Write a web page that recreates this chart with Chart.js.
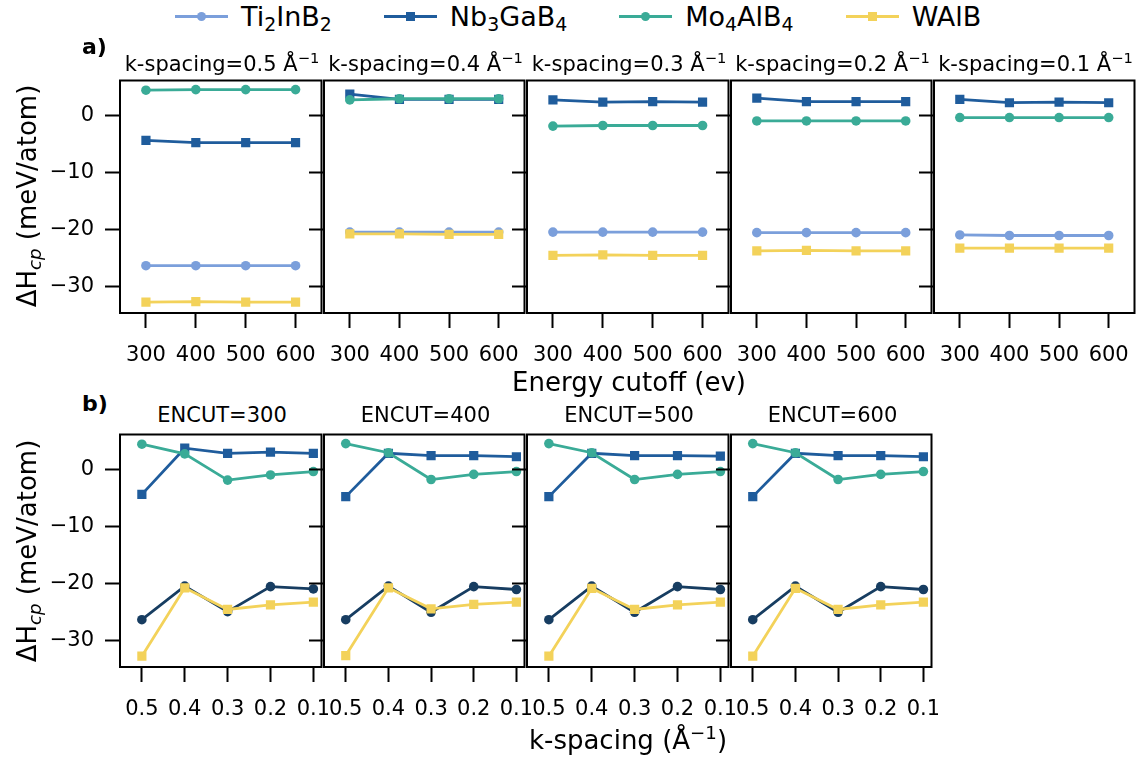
<!DOCTYPE html>
<html>
<head>
<meta charset="utf-8">
<script src="https://cdn.jsdelivr.net/npm/chart.js@4"></script>
<style>
  body { margin: 0; background: #fff; font-family: 'DejaVu Sans', sans-serif; color: #000; }
  #fig { position: relative; width: 1142px; height: 758px; overflow: hidden; }
  canvas { position: absolute; }
  .txt { position: absolute; white-space: nowrap; line-height: 1; }
  .ttl { font-size: 21px; transform: translateX(-50%); }
  .lab { font-size: 26px; transform: translateX(-50%); }
  .ylab { font-size: 26px; transform: translate(-50%, -50%) rotate(-90deg); }
  .pl { font-size: 22px; font-weight: bold; }
  sup { font-size: 0.7em; vertical-align: 0.55em; line-height: 0; }
  sub { font-size: 0.7em; vertical-align: -0.25em; line-height: 0; }
  #legend { position: absolute; top: 0; left: 175px; height: 32px; display: flex; align-items: center; font-size: 27px; }
  .item { display: flex; align-items: center; margin-right: 52px; flex-shrink: 0; }
  .sw { position: relative; width: 53px; height: 3px; margin-right: 13px; flex-shrink: 0; }
  .mk { position: absolute; left: 22px; top: -3px; width: 9px; height: 9px; }
</style>
</head>
<body>
<div id="fig">
  <div id="legend"></div>
</div>
<script>
// x values
const encut = [300, 400, 500, 600];
const kspacing = [0.5, 0.4, 0.3, 0.2, 0.1];
const yTicks = [-30, -20, -10, 0];

// row a: one row per k-spacing panel (0.5 .. 0.1), values at ENCUT 300..600
const ti_a = [
  [-26.4, -26.4, -26.4, -26.4],
  [-20.5, -20.5, -20.5, -20.5],
  [-20.5, -20.5, -20.5, -20.5],
  [-20.6, -20.6, -20.6, -20.6],
  [-21.0, -21.1, -21.1, -21.1]
];
const nb_a = [
  [-4.4, -4.8, -4.8, -4.8],
  [3.7, 2.8, 2.8, 2.8],
  [2.7, 2.3, 2.4, 2.3],
  [3.0, 2.4, 2.4, 2.4],
  [2.8, 2.2, 2.3, 2.2]
];
const mo_a = [
  [4.4, 4.5, 4.5, 4.5],
  [2.7, 2.9, 2.9, 2.9],
  [-1.9, -1.8, -1.8, -1.8],
  [-1.0, -1.0, -1.0, -1.0],
  [-0.4, -0.4, -0.4, -0.4]
];
const w_a = [
  [-32.8, -32.7, -32.8, -32.8],
  [-20.8, -20.8, -20.9, -20.9],
  [-24.6, -24.5, -24.6, -24.6],
  [-23.8, -23.7, -23.8, -23.8],
  [-23.3, -23.3, -23.3, -23.3]
];

// row b: one row per ENCUT panel (300 .. 600), values at k-spacing 0.5..0.1
const ti_b = [
  [-26.4, -20.5, -25.0, -20.6, -21.0],
  [-26.4, -20.5, -25.1, -20.6, -21.1],
  [-26.4, -20.5, -25.1, -20.6, -21.1],
  [-26.4, -20.5, -25.1, -20.6, -21.1]
];
const nb_b = [
  [-4.4, 3.7, 2.8, 3.0, 2.8],
  [-4.8, 2.8, 2.4, 2.4, 2.2],
  [-4.8, 2.8, 2.4, 2.4, 2.3],
  [-4.8, 2.8, 2.4, 2.4, 2.2]
];
const mo_b = [
  [4.4, 2.7, -1.9, -1.0, -0.4],
  [4.5, 2.9, -1.8, -0.9, -0.4],
  [4.5, 2.9, -1.8, -0.9, -0.4],
  [4.5, 2.9, -1.8, -0.9, -0.4]
];
const w_b = [
  [-32.8, -20.8, -24.6, -23.8, -23.3],
  [-32.7, -20.8, -24.5, -23.7, -23.3],
  [-32.8, -20.9, -24.6, -23.8, -23.3],
  [-32.8, -20.9, -24.6, -23.8, -23.3]
];

const names = ['Ti<sub>2</sub>InB<sub>2</sub>', 'Nb<sub>3</sub>GaB<sub>4</sub>', 'Mo<sub>4</sub>AlB<sub>4</sub>', 'WAlB'];
const colors = ['#7b9fdb', '#1f5c9c', '#3aab97', '#f3d25a'];
const tiDark = '#173d61';
const shapes = ['circle', 'rect', 'circle', 'rect'];

// layout
const lefts = [120, 324, 527, 731, 934, 1137];
const YW = 80, TOP = 4, RP = 4, XH = 64;
const fig = document.getElementById('fig');

const frame = {
  id: 'frame',
  afterDraw(c) {
    const a = c.chartArea, ctx = c.ctx;
    ctx.save();
    ctx.strokeStyle = '#000';
    ctx.lineWidth = 2;
    ctx.strokeRect(a.left, a.top, a.right - a.left, a.bottom - a.top);
    ctx.restore();
  }
};

function minus(v) { return v < 0 ? '\u2212' + Math.abs(v) : String(v); }

function panel(i, top, h, xs, series, cols, xmin, xmax, rev, xfmt) {
  const w = lefts[i + 1] - lefts[i];
  const cv = document.createElement('canvas');
  cv.width = YW + w + RP;
  cv.height = TOP + h + XH;
  cv.style.left = (lefts[i] - YW) + 'px';
  cv.style.top = (top - TOP) + 'px';
  fig.appendChild(cv);

  const datasets = series.map((vals, s) => ({
    data: vals.map((v, j) => ({ x: xs[j], y: v })),
    borderColor: cols[s],
    backgroundColor: cols[s],
    borderWidth: 2.8,
    pointStyle: shapes[s],
    pointRadius: shapes[s] == 'rect' ? 6.5 : 4.8,
    pointBorderWidth: 0,
    order: 4 - s
  }));

  new Chart(cv, {
    type: 'line',
    data: { datasets: datasets },
    options: {
      responsive: false,
      animation: false,
      devicePixelRatio: 1,
      layout: { padding: { top: TOP, right: RP, left: 0, bottom: 0 } },
      plugins: { legend: { display: false }, tooltip: { enabled: false } },
      scales: {
        x: {
          type: 'linear', min: xmin, max: xmax, reverse: rev,
          afterBuildTicks: s => { s.ticks = xs.map(v => ({ value: v })); },
          afterFit: s => { s.height = XH; s.paddingLeft = 0; s.paddingRight = 0; },
          grid: { drawOnChartArea: false, tickLength: 15, tickWidth: 2, tickColor: '#000' },
          border: { display: false },
          ticks: { color: '#000', padding: 15, maxRotation: 0, autoSkip: false,
                   font: { family: 'DejaVu Sans', size: 21 }, callback: xfmt }
        },
        y: {
          min: -34.7, max: 6.1,
          afterBuildTicks: s => { s.ticks = yTicks.map(v => ({ value: v })); },
          afterFit: s => { s.width = YW; s.paddingTop = 0; s.paddingBottom = 0; },
          grid: { drawOnChartArea: false, tickLength: 15, tickWidth: 2, tickColor: '#000' },
          border: { display: false },
          ticks: { display: i == 0, color: '#000', padding: 11,
                   font: { family: 'DejaVu Sans', size: 21 }, callback: minus }
        }
      }
    },
    plugins: [frame]
  });
}

function addText(cls, html, x, y) {
  const d = document.createElement('div');
  d.className = 'txt ' + cls;
  d.innerHTML = html;
  d.style.left = x + 'px';
  d.style.top = y + 'px';
  fig.appendChild(d);
}

// row a: energy cutoff panels
for (let i = 0; i < 5; i++) {
  panel(i, 78, 235, encut, [ti_a[i], nb_a[i], mo_a[i], w_a[i]], colors,
        248, 652, false, v => String(v));
  addText('ttl', 'k-spacing=' + kspacing[i] + ' Å<sup>\u22121</sup>', (lefts[i] + lefts[i + 1]) / 2, 54);
}
// row b: k-spacing panels
for (let i = 0; i < 4; i++) {
  panel(i, 432, 235, kspacing, [ti_b[i], nb_b[i], mo_b[i], w_b[i]],
        [tiDark, colors[1], colors[2], colors[3]], 0.081, 0.551, true, v => v.toFixed(1));
  addText('ttl', 'ENCUT=' + encut[i], (lefts[i] + lefts[i + 1]) / 2, 405);
}

addText('pl', 'a)', 82, 36);
addText('pl', 'b)', 82, 393);
addText('lab', 'Energy cutoff (ev)', 629, 369);
addText('lab', 'k-spacing (Å<sup>\u22121</sup>)', 628, 727);
addText('ylab', 'ΔH<sub><i>cp</i></sub> (meV/atom)', 27, 196);
addText('ylab', 'ΔH<sub><i>cp</i></sub> (meV/atom)', 27, 551);

// legend
const lg = document.getElementById('legend');
names.forEach((n, s) => {
  const it = document.createElement('div');
  it.className = 'item';
  const round = shapes[s] == 'circle' ? 'border-radius:50%;' : '';
  it.innerHTML = '<span class="sw" style="background:' + colors[s] + '"><span class="mk" style="background:' +
    colors[s] + ';' + round + '"></span></span><span>' + n + '</span>';
  lg.appendChild(it);
});
</script>
</body>
</html>
